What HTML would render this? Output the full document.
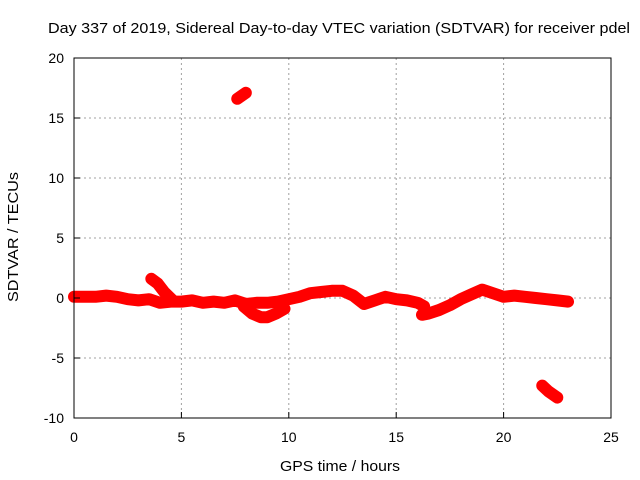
<!DOCTYPE html>
<html><head><meta charset="utf-8">
<style>
body{margin:0;background:#fff;}
svg{display:block;font-family:"Liberation Sans",Arial,sans-serif;}
</style></head>
<body>
<svg id="chart" width="640" height="480">
<text x="339" y="33" text-anchor="middle" font-size="14.5" textLength="582" lengthAdjust="spacingAndGlyphs">Day 337 of 2019, Sidereal Day-to-day VTEC variation (SDTVAR) for receiver pdel</text>
<text x="340" y="471" text-anchor="middle" font-size="15" textLength="120" lengthAdjust="spacingAndGlyphs">GPS time / hours</text>
<text transform="translate(18,237) rotate(-90)" text-anchor="middle" font-size="15" textLength="130" lengthAdjust="spacingAndGlyphs">SDTVAR / TECUs</text>
<g id="grid"></g><g id="marks"></g><g id="axes"></g>
</svg>
<script>
const xTicks=[0,5,10,15,20,25];
const yTicks=[-10,-5,0,5,10,15,20];
const mainT=[0,0.5,1,1.5,2,2.5,3,3.5,4,4.5,5,5.5,6,6.5,7,7.5,8,8.5,9,9.5,10,10.5,11,11.5,12,12.5,13,13.5,14,14.5,15,15.5,16,16.3];
const mainV=[0.1,0.1,0.1,0.2,0.1,-0.1,-0.2,-0.1,-0.4,-0.3,-0.3,-0.2,-0.4,-0.3,-0.4,-0.2,-0.5,-0.4,-0.4,-0.3,-0.1,0.1,0.4,0.5,0.6,0.6,0.2,-0.5,-0.2,0.1,-0.1,-0.2,-0.4,-0.7];
const lowT=[7.9,8.3,8.7,9.0,9.4,9.8];
const lowV=[-0.7,-1.3,-1.6,-1.6,-1.3,-0.9];
const lateT=[16.2,16.5,17,17.5,18,18.5,19,19.5,20,20.5,21,21.5,22,22.5,23];
const lateV=[-1.4,-1.3,-1.0,-0.6,-0.1,0.3,0.7,0.4,0.1,0.2,0.1,0.0,-0.1,-0.2,-0.3];
const branchT=[3.6,3.9,4.2,4.6];
const branchV=[1.6,1.2,0.5,-0.2];
const topT=[7.6,8.0];
const topV=[16.6,17.1];
const endT=[21.8,22.1,22.5];
const endV=[-7.3,-7.8,-8.3];
const X0=74,X1=611,Y0=418,Y1=58;
const xs=t=>X0+(t-0)/25*(X1-X0);
const ys=v=>Y0-(v+10)/30*(Y0-Y1);
const NS='http://www.w3.org/2000/svg';
function mk(tag,attrs,parent){const e=document.createElementNS(NS,tag);for(const k in attrs)e.setAttribute(k,attrs[k]);parent.appendChild(e);return e;}
const grid=document.getElementById('grid'),axes=document.getElementById('axes'),marks=document.getElementById('marks');
xTicks.forEach(t=>{
  if(t>0&&t<25){const g=mk('line',{x1:xs(t),x2:xs(t),y1:Y1,y2:Y0,stroke:'#a0a0a0','stroke-dasharray':'2,3'},grid);
  
  }
  const tk=mk('line',{x1:xs(t),x2:xs(t),y1:Y0,y2:Y0-6,stroke:'#000'},axes);
  
  
  const lb=mk('text',{x:xs(t),y:Y0+24,'text-anchor':'middle','font-size':'14'},axes);
  lb.textContent=t;
  
  
});
yTicks.forEach(v=>{
  if(v>-10&&v<20){const g=mk('line',{x1:X0,x2:X1,y1:ys(v),y2:ys(v),stroke:'#a0a0a0','stroke-dasharray':'2,3'},grid);
  
  }
  const tk=mk('line',{x1:X0,x2:X0+6,y1:ys(v),y2:ys(v),stroke:'#000'},axes);
  
  
  const lb=mk('text',{x:X0-10,y:ys(v)+5,'text-anchor':'end','font-size':'14'},axes);
  lb.textContent=v;
  
  
});
const fr=mk('rect',{x:X0,y:Y1,width:X1-X0,height:Y0-Y1,fill:'none',stroke:'#000'},axes);


function series(T,V,name){
  const pts=T.map((t,i)=>xs(t)+','+ys(V[i])).join(' ');
  const p=mk('polyline',{points:pts,fill:'none',stroke:'#f00','stroke-width':'12','stroke-linejoin':'round','stroke-linecap':'round'},marks);
  
  
}
series(mainT,mainV,'sdtvar-main-series');
series(lowT,lowV,'sdtvar-low-branch');
series(lateT,lateV,'sdtvar-late-series');
series(branchT,branchV,'sdtvar-branch-series');
series(topT,topV,'sdtvar-outlier-high');
series(endT,endV,'sdtvar-outlier-low');
</script>
</body></html>
